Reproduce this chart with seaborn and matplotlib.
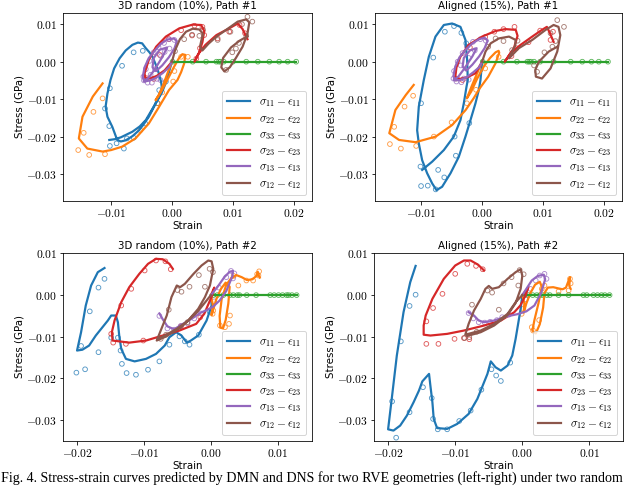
import numpy as np
import matplotlib
matplotlib.use("Agg")
import matplotlib.pyplot as plt
import seaborn as sns
from matplotlib.ticker import FuncFormatter

# all values below are in units of 1e-3 (strain, GPa)

# ---------- 3D random (10%), Path #1 ----------
TL_S11 = [(0, 0), (-0.5, -2.8), (-1.0, -5.6), (-1.7, -8.4), (-2.4, -10.2), (-3.1, -12.5), (-3.8, -14.7),
          (-4.6, -16.6), (-5.4, -18.3), (-6.5, -19.9), (-7.6, -21.0), (-8.4, -21.3), (-9.0, -20.9),
          (-9.8, -17.4), (-10.6, -14.7), (-10.9, -12.0), (-10.6, -8.5), (-10.1, -4.9), (-9.5, -1.8),
          (-8.6, 0.9), (-7.6, 3.0), (-6.5, 4.5), (-5.6, 5.1), (-4.9, 4.9), (-4.3, 3.6), (-3.7, 2.5),
          (-3.2, 1.3), (-2.4, -1.8), (-1.8, -5.3), (-1.6, -7.6), (-2.2, -9.8), (-3.0, -12.0),
          (-4.3, -15.6), (-5.3, -17.3), (-6.5, -18.7), (-8.4, -20.2), (-9.4, -20.7), (-10.3, -20.9)]
TL_S11_DNS = [(-6.3, 2.5), (-4.8, 2.9), (-8.2, -1.1), (-10.2, -7.1), (-11.0, -12.5), (-10.3, -17.2),
              (-10.2, -22.5), (-9.1, -21.8), (-7.9, -23.2), (-7.4, -20.5), (-6.3, -20.3), (-4.4, -16.5),
              (-2.4, -11.1), (-2.1, -7.6), (-1.0, -5.3)]
TL_S22 = [(0, 0), (-0.6, -2.5), (-1.4, -6.0), (-2.2, -9.0), (-2.7, -10.3), (-1.9, -8.3), (-0.8, -5.0),
          (0.3, -1.5), (1.1, 0.8), (1.7, 2.0), (2.2, 1.8), (2.0, -0.5), (1.5, -2.8), (0.9, -4.9),
          (-0.5, -7.6), (-2.1, -12.0), (-3.8, -16.5), (-6.0, -20.5), (-8.2, -22.7), (-10.0, -23.6),
          (-11.4, -24.0), (-13.9, -23.2), (-15.3, -20.5), (-14.7, -14.7), (-13.0, -9.3), (-11.4, -5.8)]
TL_S22_DNS = [(-11.4, -9.8), (-12.9, -13.4), (-14.5, -19.0), (-15.4, -23.6), (-13.6, -24.9), (-11.0, -24.7),
              (-5.2, -18.3), (-2.3, -11.1), (-1.6, -8.2), (0.2, -5.3), (0.4, -2.5), (1.5, 1.3), (2.6, 1.3)]
TL_S33 = [(0, 0), (20.4, 0)]
TL_S33_DNS = [(0.1, 0), (3.4, 0), (5.6, 0), (7.3, 0), (7.7, 0), (8.0, 0), (8.5, 0), (10.0, 0), (12.2, 0),
              (14.1, 0), (16.0, 0), (17.6, 0), (19.0, 0), (20.4, 0)]
TL_S23 = [(0, 0), (-1.2, -2.3), (-2.5, -3.8), (-3.6, -4.5), (-4.4, -4.3), (-4.5, -3.1), (-3.8, 0.5),
          (-2.6, 4.0), (-1.0, 6.7), (1.2, 8.9), (3.4, 9.9), (4.8, 9.8), (5.3, 8.2), (5.0, 5.2), (4.4, 2.2),
          (3.7, 0.0), (4.3, 2.0), (5.5, 4.5), (7.3, 7.1), (9.4, 8.9), (10.8, 10.2), (11.6, 8.7), (12.4, 6.0)]
TL_S23_DNS = [(-4.2, -4.4), (-3.0, -4.6), (-2.0, 1.8), (-0.5, 6.0), (1.5, 8.4), (3.3, 7.0), (3.7, 9.6),
              (5.0, 9.3), (5.3, 7.1), (4.6, 3.6), (4.0, 0.8), (7.5, 6.2), (9.4, 8.0), (11.1, 9.8), (12.0, 7.6)]
TL_S13 = [(0, 0), (-0.5, -1.5), (-1.5, -3.0), (-2.6, -4.3), (-3.6, -5.0), (-4.5, -5.3), (-4.8, -4.0),
          (-4.5, -1.5), (-3.8, 1.0), (-2.8, 3.0), (-1.8, 4.8), (-0.8, 5.9), (0.3, 6.2), (0.8, 5.5),
          (0.4, 3.5), (-0.5, 1.2), (-1.6, -1.0), (-2.6, -2.5), (-3.2, -1.5), (-3.0, 1.0), (-2.0, 3.2),
          (-0.8, 3.8), (-1.5, 1.5), (-2.8, -2.0), (-3.8, -4.2), (-4.6, -5.2)]
TL_S13_DNS = [(-4.6, -5.0), (-4.0, -5.6), (-3.3, -5.6), (-4.7, -4.0), (-4.3, -2.0), (-3.7, 0.2), (-3.0, 2.5),
              (-2.2, 3.8), (-1.3, 5.0), (-0.5, 6.0), (0.4, 5.8), (-0.4, 3.5), (-1.8, 1.5), (-2.8, -2.0),
              (-3.5, -3.5), (-2.5, -4.6), (-1.9, -4.9), (-1.2, 2.6)]
TL_S12 = [(0, 0), (0.5, 3.0), (1.3, 6.0), (2.3, 8.0), (3.4, 8.8), (4.5, 8.6), (5.1, 7.4), (4.8, 5.5),
          (4.6, 4.0), (5.0, 3.0), (6.0, 4.8), (7.3, 6.7), (8.9, 8.5), (10.8, 10.7), (12.2, 11.3),
          (12.7, 10.5), (12.4, 7.5), (11.6, 4.0), (10.5, 1.0), (9.5, -1.5), (8.6, -2.6), (8.1, -1.5),
          (8.4, 1.0), (9.7, 3.8), (11.1, 5.6), (12.4, 6.8)]
TL_S12_DNS = [(0.5, 2.8), (2.0, 6.0), (3.3, 7.2), (4.5, 6.9), (5.1, 8.5), (7.5, 5.8), (9.9, 2.5), (10.5, 3.5),
              (11.0, 5.0), (12.2, 6.9), (12.4, 12.0), (13.2, 10.7), (11.5, 10.0), (8.9, -2.2), (9.6, 8.0)]

# ---------- Aligned (15%), Path #1 ----------
TR_S11 = [(0, 0), (-0.27, -4.9), (-0.55, -7.6), (-1.09, -11.1), (-1.91, -15.6), (-2.73, -20.0),
          (-3.82, -25.4), (-5.18, -29.8), (-6.55, -33.4), (-7.47, -34.3), (-8.18, -32.5), (-9.0, -29.8),
          (-9.82, -26.3), (-10.37, -21.8), (-10.64, -18.3), (-10.37, -12.0), (-9.55, -4.9), (-8.73, 1.3),
          (-7.64, 6.7), (-6.27, 9.8), (-4.91, 10.2), (-3.55, 9.3), (-2.73, 5.8), (-2.45, 0.4),
          (-2.35, -4.9), (-2.56, -6.7), (-3.0, -11.1), (-3.55, -15.6), (-4.64, -20.0), (-6.27, -23.6),
          (-8.18, -26.7), (-9.82, -28.9)]
TR_S11_DNS = [(-6.1, 8.0), (-4.6, 9.5), (-3.4, 7.7), (-2.6, 4.9), (-8.0, 1.1), (-10.0, -11.1), (-10.1, -28.0),
              (-10.0, -33.2), (-8.9, -33.1), (-7.6, -34.1), (-7.2, -28.9), (-6.2, -30.9), (-4.3, -25.1),
              (-4.5, -20.0), (-2.1, -16.4), (-0.3, -2.2)]
TR_S22 = [(0, 0), (-0.8, -3.0), (-1.7, -6.5), (-2.5, -9.8), (-1.8, -8.0), (-0.8, -4.5), (0.3, -1.2),
          (1.3, 1.0), (2.2, 2.5), (2.7, 2.9), (2.8, 2.4), (2.2, -0.4), (1.0, -4.0), (-0.3, -6.9),
          (-1.4, -9.8), (-2.7, -12.9), (-4.9, -16.9), (-7.6, -20.0), (-10.9, -21.5), (-13.6, -20.9),
          (-15.2, -19.1), (-14.2, -12.9), (-12.5, -8.9), (-11.2, -6.2)]
TR_S22_DNS = [(-11.3, -9.1), (-12.7, -12.0), (-14.4, -17.4), (-15.1, -22.0), (-13.3, -23.2), (-10.8, -22.5),
              (-7.9, -20.0), (-5.0, -16.2), (-2.5, -11.1), (-1.0, -7.5), (0.5, -1.8), (2.7, 1.3)]
TR_S33 = [(0, 0), (20.6, 0)]
TR_S33_DNS = [(0.1, 0), (3.5, 0), (5.7, 0), (7.4, 0), (7.7, 0), (8.0, 0), (8.5, 0), (9.5, 0), (11.7, 0),
              (14.5, 0), (16.4, 0), (17.9, 0), (19.1, 0), (20.6, 0)]
TR_S23 = [(0, 0), (-1.1, -3.1), (-2.5, -4.2), (-3.6, -4.6), (-4.4, -4.1), (-4.2, -1.5), (-3.6, 1.2),
          (-2.2, 4.5), (0, 6.7), (2.2, 8.2), (3.8, 8.7), (5.5, 8.5), (5.8, 6.9), (5.2, 3.6), (4.1, 0.9),
          (3.7, 0), (4.6, 2.2), (6.3, 4.5), (8.2, 6.7), (9.8, 8.5), (10.6, 9.3), (11.1, 7.6), (11.7, 5.3)]
TR_S23_DNS = [(-4.3, -4.5), (-3.2, -4.9), (-2.0, 3.8), (0.5, 6.6), (2.0, 8.0), (3.5, 8.7), (5.3, 9.3),
              (5.6, 3.6), (4.8, 1.5), (7.6, 5.2), (9.5, 8.3), (11.6, 8.0), (11.2, 5.8)]
TR_S13 = [(0, 0), (-0.5, -1.5), (-1.5, -2.9), (-2.6, -4.2), (-3.6, -4.9), (-4.5, -5.0), (-4.7, -3.8),
          (-4.4, -1.3), (-3.7, 1.2), (-2.7, 3.2), (-1.6, 4.9), (-0.5, 6.0), (0.4, 6.4), (0.9, 5.6),
          (0.4, 3.6), (-0.5, 1.4), (-1.6, -0.8), (-2.6, -2.4), (-3.2, -1.3), (-3.0, 1.0), (-2.0, 3.0),
          (-0.9, 3.6), (-1.6, 1.4), (-2.9, -1.8), (-3.9, -4.0), (-4.6, -4.8)]
TR_S13_DNS = [(-4.7, -4.5), (-4.2, -5.3), (-3.4, -5.5), (-4.6, -2.5), (-4.0, 0.0), (-3.2, 2.3), (-2.5, 4.0),
              (-1.5, 5.3), (-0.3, 6.0), (0.6, 5.6), (-1.2, 3.0), (-2.2, 1.0), (-3.5, -1.0), (-3.0, -4.5),
              (-2.2, -4.8)]
TR_S12 = [(0, 0), (0.55, 2.7), (1.4, 4.9), (2.7, 6.2), (4.4, 6.7), (5.5, 5.8), (5.4, 4.2), (4.8, 2.4),
          (4.4, 0.9), (6.0, 3.6), (8.2, 5.8), (10.4, 8.5), (11.7, 9.8), (12.5, 9.3), (12.8, 7.1),
          (12.3, 2.7), (11.2, -1.8), (9.8, -4.5), (8.8, -4.0), (8.7, -2.2), (9.3, 0), (10.9, 2.7), (12.3, 4.0)]
TR_S12_DNS = [(1.0, 4.0), (2.2, 6.2), (3.5, 5.5), (4.9, 3.1), (5.8, 5.6), (8.5, -1.0), (9.0, -2.7),
              (10.2, 2.5), (11.5, 4.0), (12.0, 5.5), (11.2, 7.6), (12.3, 11.1), (13.4, 9.3)]

# ---------- 3D random (10%), Path #2 ----------
BL_S11 = [(0, 0), (0.1, -2.5), (-0.65, -6.1), (-1.9, -9.7), (-3.0, -10.9), (-3.6, -11.4), (-4.4, -9.7),
          (-5.2, -8.9), (-6.2, -10.1), (-6.9, -12.1), (-8.2, -14.1), (-9.7, -15.3), (-11.4, -15.9),
          (-12.7, -15.3), (-13.4, -12.9), (-13.7, -9.7), (-13.9, -6.5), (-14.2, -4.9), (-14.9, -4.9),
          (-15.4, -6.1), (-16.4, -8.1), (-17.2, -9.7), (-18.2, -12.1), (-19.2, -13.1), (-20.0, -13.3),
          (-19.4, -8.9), (-18.7, -2.5), (-17.9, 2.3), (-16.9, 5.5), (-15.9, 6.5)]
BL_S11_DNS = [(-15.9, 3.9), (-16.8, 1.8), (-18.1, -3.9), (-19.4, -12.2), (-16.8, -13.7), (-20.1, -18.6),
              (-18.8, -17.8), (-14.9, -10.2), (-13.9, -10.2), (-13.3, -16.5), (-13.5, -13.3),
              (-12.6, -18.7), (-11.2, -19.1), (-9.4, -17.9), (-7.7, -15.9), (-6.2, -11.9), (-4.7, -9.9),
              (-3.9, -11.1), (-3.2, -11.9), (-1.8, -9.5), (-0.2, -4.0)]
BL_S22 = [(0, 0), (0.3, -2.5), (0.1, -4.8), (0.8, -1.0), (1.5, 1.5), (2.2, 3.0), (2.8, 2.0), (2.6, -2.0),
          (2.2, -6.0), (1.8, -8.0), (1.4, -7.8), (1.3, -5.0), (1.6, -1.0), (2.3, 2.5), (3.0, 4.0),
          (3.8, 4.8), (4.6, 4.3), (5.4, 3.6), (6.2, 3.8), (6.8, 4.6), (7.0, 5.6), (7.1, 4.8), (7.3, 4.2)]
BL_S22_DNS = [(0.25, -4.5), (0.35, -3.7), (1.35, -7.3), (2.1, -7.7), (2.7, -6.9), (2.85, -4.9), (4.1, 2.3),
              (3.4, 4.6), (5.3, 3.5), (6.3, 3.5), (6.9, 5.0), (7.2, 5.7), (7.1, 4.7)]
BL_S33 = [(0, 0), (12.8, 0)]
BL_S33_DNS = [(0.35, 0), (0.95, 0), (1.85, 0), (2.85, 0), (3.35, 0), (3.95, 0), (4.25, 0), (5.35, 0),
              (6.75, 0), (8.85, 0), (9.45, 0), (10.1, 0), (10.7, 0), (11.3, 0), (11.6, 0), (12.1, 0), (12.8, 0)]
BL_S23 = [(0, 0), (0.5, 1.8), (0.2, 0.0), (-1.0, -4.5), (-2.2, -6.9), (-4.7, -8.5), (-7.2, -9.7),
          (-9.7, -10.9), (-12.2, -11.4), (-14.7, -10.9), (-14.8, -8.9), (-14.4, -6.1), (-13.4, -1.7),
          (-12.2, 1.9), (-10.7, 5.1), (-9.4, 7.5), (-8.2, 8.7), (-7.2, 8.6), (-6.2, 7.5), (-5.7, 6.3)]
BL_S23_DNS = [(-14.9, -9.3), (-14.6, -11.4), (-12.7, -11.7), (-10.1, -10.9), (-13.4, -2.5), (-11.9, 1.5),
              (-9.9, 5.9), (-8.2, 8.3), (-6.8, 8.1), (-6.0, 6.2), (-1.6, -5.3), (-4.5, -7.5)]
BL_S13 = [(0, 0), (1.0, 2.0), (2.0, 4.3), (2.8, 5.6), (3.3, 5.8), (3.2, 4.5), (2.3, 1.0), (1.3, -1.3),
          (0.3, -2.8), (-0.5, -3.5), (-1.5, -4.2), (-3.0, -5.8), (-4.5, -7.2), (-5.5, -8.2), (-6.5, -7.5),
          (-7.2, -5.8), (-7.7, -4.4)]
BL_S13_DNS = [(-7.7, -5.0), (-6.5, -8.0), (-5.5, -8.3), (-4.5, -7.4), (-3.5, -6.8), (-2.5, -5.6),
              (-1.5, -4.4), (0.5, -1.5), (1.2, 1.8), (2.3, 4.3), (3.0, 5.8), (3.5, 5.2), (3.3, 4.0)]
BL_S12 = [(0, 0), (-2.0, -4.0), (-4.5, -7.8), (-6.8, -10.0), (-8.1, -10.9), (-7.4, -8.1), (-6.6, -4.9),
          (-5.9, -0.5), (-5.1, 2.3), (-4.6, 1.9), (-3.9, 2.7), (-2.6, 5.1), (-1.4, 7.1), (-0.4, 8.3),
          (0.1, 8.1), (0.35, 6.3), (-0.15, 2.3), (-0.9, -0.5), (-1.9, -3.3), (-3.4, -6.1), (-5.1, -8.1),
          (-6.9, -9.7), (-7.9, -10.5)]
BL_S12_DNS = [(-5.0, 1.2), (-4.4, 0.8), (-3.2, 2.0), (-1.8, 4.8), (-0.2, 6.3), (0.3, 5.5), (-7.5, -10.5),
              (-6.7, -9.5), (-6.3, -3.5), (-3.5, -6.5), (-0.9, 2.0)]

# ---------- Aligned (15%), Path #2 ----------
BR_S11 = [(0, 0), (-0.25, -3.3), (-0.5, -5.7), (-1.0, -10.5), (-1.5, -14.5), (-2.2, -16.9), (-3.2, -18.1),
          (-4.0, -17.3), (-4.7, -15.9), (-5.2, -18.9), (-6.0, -22.1), (-6.7, -24.9), (-8.0, -28.5),
          (-9.7, -30.9), (-11.2, -32.1), (-12.7, -31.9), (-13.2, -29.7), (-13.4, -25.7), (-13.7, -21.7),
          (-13.9, -18.9), (-14.9, -20.7), (-15.4, -22.9), (-16.2, -25.7), (-17.2, -28.9), (-18.2, -31.3),
          (-19.2, -32.5), (-20.0, -32.2), (-19.4, -24.1), (-18.7, -14.5), (-17.7, -4.1), (-16.7, 3.1),
          (-15.9, 7.0)]
BR_S11_DNS = [(-15.9, 0.1), (-16.8, -2.6), (-18.1, -11.1), (-19.4, -25.5), (-16.8, -28.1), (-18.8, -34.2),
              (-14.8, -22.1), (-13.5, -24.7), (-13.3, -29.7), (-12.6, -32.2), (-11.2, -32.2), (-9.4, -30.2),
              (-7.7, -27.7), (-6.1, -22.7), (-4.6, -17.8), (-3.9, -19.3), (-3.2, -20.6), (-1.8, -16.2)]
BR_S22 = [(0, 0), (0.3, -2.0), (0.2, -4.2), (0.6, -2.0), (1.2, 0.5), (1.9, 2.5), (2.6, 3.2), (2.9, 2.0),
          (2.4, -2.0), (1.8, -6.0), (1.5, -8.5), (2.0, -9.2), (2.6, -7.0), (3.1, -3.0), (3.3, 0.5),
          (3.8, 1.8), (4.6, 1.9), (5.4, 1.6), (6.0, 1.4), (6.5, 1.8), (6.9, 3.5), (7.1, 4.3), (7.0, 2.2),
          (7.2, 1.5)]
BR_S22_DNS = [(-0.1, -4.5), (0.15, -3.3), (1.4, -7.7), (1.6, -8.5), (2.5, -6.0), (2.9, 1.5), (3.3, 2.3),
              (5.4, 0.9), (6.9, 1.1), (7.1, 3.9), (7.2, 2.8)]
BR_S33 = [(0, 0), (13.0, 0)]
BR_S33_DNS = [(0.4, 0), (0.9, 0), (1.55, 0), (2.15, 0), (2.65, 0), (3.05, 0), (3.65, 0), (4.1, 0), (5.4, 0),
              (6.9, 0), (9.1, 0), (9.6, 0), (10.6, 0), (11.2, 0), (11.8, 0), (12.3, 0), (13.0, 0)]
BR_S23 = [(0, 0), (0.5, 1.0), (0.9, 1.9), (0.5, 0.0), (-0.3, -2.5), (-1.2, -4.1), (-3.2, -6.1),
          (-5.7, -7.3), (-8.7, -8.5), (-11.2, -9.3), (-13.7, -9.7), (-14.7, -9.5), (-14.7, -7.3),
          (-14.4, -4.9), (-13.4, -0.9), (-11.7, 3.9), (-10.0, 7.1), (-8.7, 8.3), (-7.7, 8.3), (-6.6, 7.3),
          (-5.7, 5.9)]
BR_S23_DNS = [(-14.3, -11.7), (-12.5, -11.7), (-10.1, -10.5), (-8.7, -10.3), (-7.9, -10.6), (-14.3, -6.3),
              (-13.3, -3.1), (-11.9, 0.3), (-10.0, 5.1), (-8.2, 7.5), (-6.9, 7.0), (-5.9, 6.2)]
BR_S13 = [(0, 0), (0.6, 1.5), (1.4, 3.5), (2.3, 4.6), (3.2, 4.9), (3.4, 3.8), (2.8, 0.5), (1.8, -2.5),
          (0.6, -3.9), (-0.8, -4.6), (-2.0, -5.0), (-2.7, -5.3), (-4.2, -6.1), (-5.7, -6.5), (-6.5, -6.1),
          (-7.2, -4.9), (-8.0, -4.1)]
BR_S13_DNS = [(-8.0, -4.3), (-7.3, -5.6), (-6.5, -6.5), (-5.6, -6.6), (-4.8, -6.4), (-3.8, -6.0),
              (-3.0, -5.3), (-2.0, -4.7), (0.5, -1.0), (1.2, 1.5), (2.0, 3.5), (2.6, 4.7), (3.3, 5.1), (3.6, 3.9)]
BR_S12 = [(0, 0), (-1.0, -1.7), (-2.2, -4.5), (-4.2, -6.9), (-6.2, -8.5), (-8.5, -9.5), (-8.0, -6.9),
          (-7.2, -3.7), (-6.2, -0.9), (-5.5, 1.5), (-5.0, 2.2), (-4.5, 1.5), (-3.5, 1.9), (-2.2, 3.9),
          (-1.0, 5.5), (-0.25, 6.2), (0, 4.7), (-0.25, 1.5), (-1.0, -1.9), (-2.2, -4.8), (-4.2, -7.3),
          (-6.2, -8.9), (-8.2, -9.8)]
BR_S12_DNS = [(-5.2, 1.1), (-4.5, 0.6), (-2.8, 2.8), (-1.6, 4.3), (-0.4, 6.0), (0.2, 5.0), (-0.6, 2.3),
              (-7.5, -2.3), (-8.6, -10.3), (-7.9, -10.1), (-6.8, -8.8), (-3.5, -3.5)]

LABELS = [r"$\sigma_{11}-\epsilon_{11}$", r"$\sigma_{22}-\epsilon_{22}$", r"$\sigma_{33}-\epsilon_{33}$",
          r"$\sigma_{23}-\epsilon_{23}$", r"$\sigma_{13}-\epsilon_{13}$", r"$\sigma_{12}-\epsilon_{12}$"]
TITLES = ["3D random (10%), Path #1", "Aligned (15%), Path #1",
          "3D random (10%), Path #2", "Aligned (15%), Path #2"]
CAPTION = ("Fig. 4. Stress-strain curves predicted by DMN and DNS for two RVE geometries "
           "(left-right) under two random")

plt.rcParams["mathtext.fontset"] = "cm"
COLORS = sns.color_palette("tab10", 6)


def draw_panel(ax, curves, dns, title, xlim, ylim, xticks):
    for i, (c, d) in enumerate(zip(curves, dns)):
        cx, cy = np.array(c, dtype=float).T * 1e-3
        dx, dy = np.array(d, dtype=float).T * 1e-3
        sns.lineplot(x=cx, y=cy, sort=False, estimator=None, color=COLORS[i], lw=2.2,
                     label=LABELS[i], ax=ax)
        sns.scatterplot(x=dx, y=dy, marker="o", s=22, facecolor="none", edgecolor=COLORS[i],
                        linewidth=0.9, alpha=0.75, ax=ax)
    ax.set_xlim(*xlim)
    ax.set_ylim(*ylim)
    ax.set_xticks(xticks)
    ax.set_yticks([-0.03, -0.02, -0.01, 0, 0.01])
    fmt = FuncFormatter(lambda v, _: f"${v:.2f}$")
    ax.xaxis.set_major_formatter(fmt)
    ax.yaxis.set_major_formatter(fmt)
    ax.set_title(title, fontsize=10.3, pad=4)
    ax.set_xlabel("Strain", fontsize=10.3, labelpad=1)
    ax.set_ylabel("Stress (GPa)", fontsize=10.3, labelpad=2)
    ax.tick_params(labelsize=11.5, length=3.5, pad=2.5)
    ax.legend(loc="lower right", fontsize=11.5, labelspacing=0.2, handlelength=2.0)


fig = plt.figure(figsize=(640 / 72, 486 / 72), dpi=72)
W, H = 640, 486


def add_ax(l, r, t, b):
    return fig.add_axes([l / W, (H - b) / H, (r - l) / W, (b - t) / H])


draw_panel(add_ax(63, 312, 13, 201),
           [TL_S11, TL_S22, TL_S33, TL_S23, TL_S13, TL_S12],
           [TL_S11_DNS, TL_S22_DNS, TL_S33_DNS, TL_S23_DNS, TL_S13_DNS, TL_S12_DNS],
           TITLES[0], (-0.0179, 0.0230), (-0.0372, 0.0130), [-0.01, 0, 0.01, 0.02])
draw_panel(add_ax(375, 622, 13, 201),
           [TR_S11, TR_S22, TR_S33, TR_S23, TR_S13, TR_S12],
           [TR_S11_DNS, TR_S22_DNS, TR_S33_DNS, TR_S23_DNS, TR_S13_DNS, TR_S12_DNS],
           TITLES[1], (-0.01754, 0.0229), (-0.0372, 0.0130), [-0.01, 0, 0.01, 0.02])
draw_panel(add_ax(63, 312, 253, 441),
           [BL_S11, BL_S22, BL_S33, BL_S23, BL_S13, BL_S12],
           [BL_S11_DNS, BL_S22_DNS, BL_S33_DNS, BL_S23_DNS, BL_S13_DNS, BL_S12_DNS],
           TITLES[2], (-0.0221, 0.0151), (-0.0350, 0.0101), [-0.02, -0.01, 0, 0.01])
draw_panel(add_ax(374, 623, 253, 441),
           [BR_S11, BR_S22, BR_S33, BR_S23, BR_S13, BR_S12],
           [BR_S11_DNS, BR_S22_DNS, BR_S33_DNS, BR_S23_DNS, BR_S13_DNS, BR_S12_DNS],
           TITLES[3], (-0.0221, 0.0150), (-0.0350, 0.0101), [-0.02, -0.01, 0, 0.01])

fig.text(0.002, 4.5 / H, CAPTION, family="Liberation Serif", fontsize=14.0, va="baseline", ha="left")

fig.savefig("out.png", dpi=72)
